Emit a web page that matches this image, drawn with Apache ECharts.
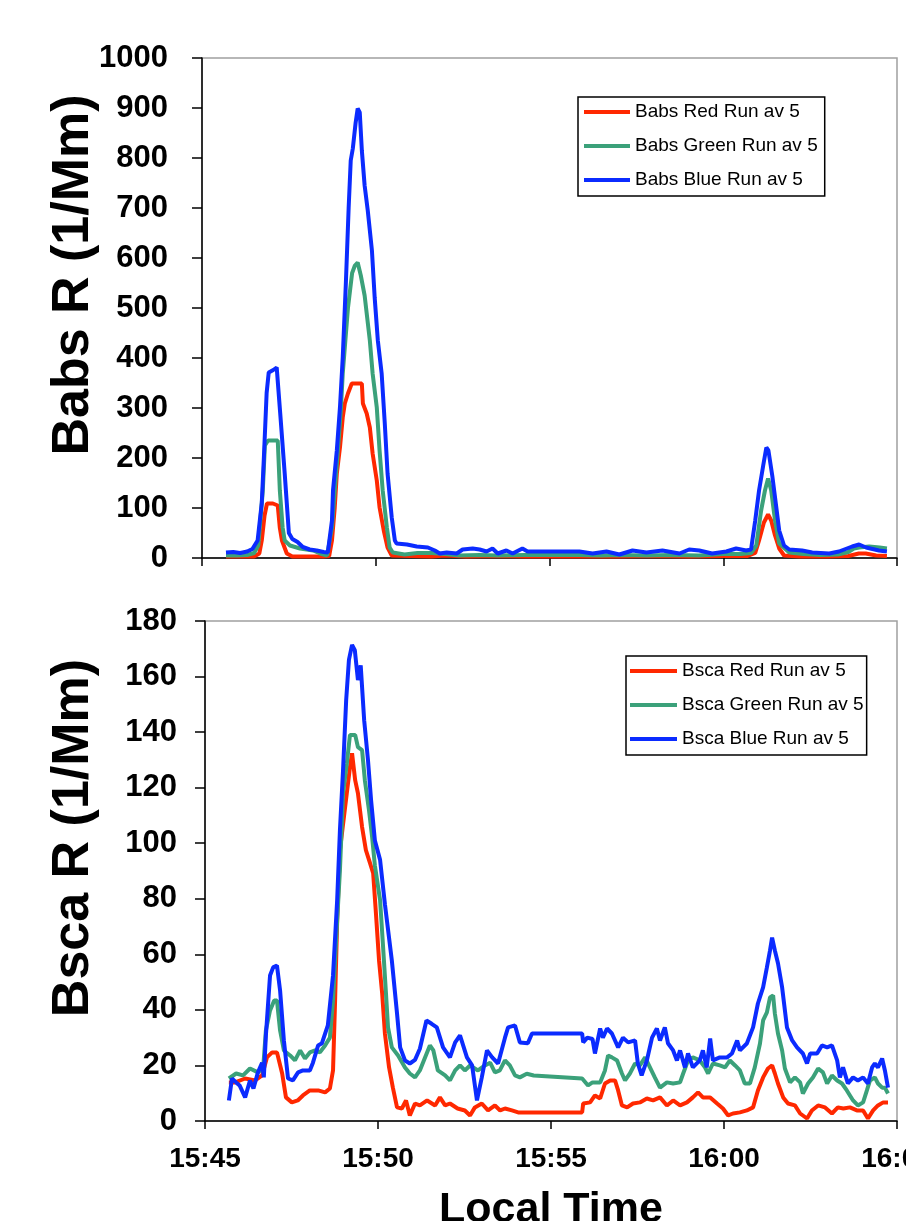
<!DOCTYPE html>
<html><head><meta charset="utf-8">
<script src="https://cdn.jsdelivr.net/npm/echarts@6/dist/echarts.min.js"></script>
<style>html,body{margin:0;padding:0;background:#fff}#c{width:906px;height:1221px}</style>
</head><body><div id="c"></div>
<script>
// x values: minutes after 15:45 local time
const tickLabels = ['15:45','15:50','15:55','16:00','16:05'];
const babsNames = ['Babs Red Run av 5','Babs Green Run av 5','Babs Blue Run av 5'];
const bscaNames = ['Bsca Red Run av 5','Bsca Green Run av 5','Bsca Blue Run av 5'];
const colors = ['#ff2800','#3ba17a','#0b2bff'];

const babsRed = [[0.69,3],[1.5,3],[1.65,9],[1.72,35],[1.8,85],[1.87,109],[2.04,109],[2.18,105],[2.24,60],[2.3,35],[2.44,9],[2.6,3],[3.5,3],[3.66,4],[3.74,35],[3.82,101],[3.88,169],[3.97,221],[4.05,281],[4.11,309],[4.2,329],[4.31,349],[4.6,349],[4.63,309],[4.74,289],[4.83,261],[4.91,209],[5.03,155],[5.11,101],[5.23,55],[5.34,21],[5.46,5],[6.0,4],[6.6,3],[7.0,5],[7.6,3],[8.5,4],[9.3,3],[10.86,3],[12.0,3],[13.0,4],[14.0,3],[15.0,4],[15.7,4],[15.92,10],[16.03,35],[16.17,71],[16.29,87],[16.38,75],[16.49,45],[16.61,19],[16.75,5],[17.2,3],[18.0,3],[18.6,4],[18.9,9],[19.1,9],[19.4,5],[19.71,4]];
const babsGreen = [[0.69,5],[1.0,5],[1.3,6],[1.5,10],[1.62,25],[1.75,135],[1.81,225],[1.9,235],[2.18,235],[2.24,135],[2.32,61],[2.38,35],[2.53,25],[2.82,19],[3.2,15],[3.4,9],[3.6,5],[3.74,61],[3.82,135],[3.91,215],[4.0,301],[4.05,369],[4.2,500],[4.32,570],[4.4,585],[4.48,591],[4.57,565],[4.68,525],[4.83,435],[4.91,369],[5.03,301],[5.11,215],[5.2,135],[5.32,61],[5.4,21],[5.49,11],[5.83,7],[6.2,10],[6.6,10],[7.0,8],[7.4,5],[8.0,6],[8.5,5],[9.3,6],[10.86,6],[11.5,5],[12.0,6],[12.8,5],[13.5,6],[14.3,5],[15.0,8],[15.5,8],[15.8,10],[15.95,25],[16.09,95],[16.2,135],[16.29,159],[16.38,135],[16.49,75],[16.61,29],[16.9,11],[17.3,8],[17.8,6],[18.3,7],[18.6,12],[18.76,19],[18.91,21],[19.2,23],[19.5,21],[19.71,19]];
const babsBlue = [[0.69,11],[0.9,12],[1.1,10],[1.3,13],[1.45,18],[1.6,35],[1.72,110],[1.78,200],[1.86,330],[1.92,371],[2.05,376],[2.15,381],[2.25,290],[2.38,169],[2.5,50],[2.6,38],[2.75,32],[2.9,22],[3.1,17],[3.3,15],[3.5,12],[3.62,11],[3.74,75],[3.77,135],[3.88,215],[3.97,301],[4.05,401],[4.14,550],[4.22,700],[4.28,795],[4.34,819],[4.42,870],[4.48,899],[4.54,891],[4.6,815],[4.68,745],[4.77,695],[4.89,615],[4.97,520],[5.06,435],[5.17,369],[5.26,269],[5.34,169],[5.46,81],[5.55,35],[5.6,29],[5.9,27],[6.18,23],[6.5,21],[6.7,15],[6.84,9],[7.04,11],[7.33,9],[7.5,17],[7.79,19],[7.99,17],[8.19,13],[8.36,19],[8.51,9],[8.76,15],[8.94,9],[9.22,19],[9.37,13],[10.86,13],[11.24,9],[11.64,13],[12.01,7],[12.39,15],[12.79,11],[13.25,15],[13.74,9],[14.02,17],[14.31,15],[14.68,9],[15.09,13],[15.37,19],[15.66,15],[15.8,17],[15.92,75],[16.03,135],[16.15,185],[16.24,221],[16.3,215],[16.41,165],[16.52,105],[16.61,55],[16.75,25],[16.9,17],[17.27,15],[17.56,11],[18.05,9],[18.33,13],[18.71,23],[18.91,27],[19.11,21],[19.48,15],[19.71,13]];

const bscaRed = [[0.69,13.9],[0.87,13.9],[1.16,15.3],[1.45,14.6],[1.65,16.4],[1.79,22.9],[1.94,24.7],[2.08,24.7],[2.23,17.1],[2.34,8.5],[2.51,6.7],[2.68,7.4],[2.83,9.2],[3.03,11],[3.27,11],[3.47,10.3],[3.61,11.7],[3.7,18.2],[3.76,43.4],[3.82,72.3],[3.9,97.5],[4.05,113],[4.19,127.4],[4.25,132.4],[4.34,122.7],[4.42,118],[4.54,105.8],[4.65,97.5],[4.77,92.8],[4.86,89.2],[4.94,74.8],[5.03,57.8],[5.12,46],[5.2,31.5],[5.32,19.3],[5.43,12],[5.55,4.9],[5.69,4.5],[5.81,7.4],[5.92,2],[6.07,6.3],[6.21,5.6],[6.42,7.4],[6.65,5.6],[6.79,8.5],[6.94,5.6],[7.08,6.3],[7.3,4.5],[7.51,3.8],[7.66,2],[7.8,4.9],[8.0,6.3],[8.18,3.8],[8.38,5.6],[8.53,3.8],[8.67,4.5],[8.87,3.8],[9.05,3.1],[10.9,3.1],[10.93,6.3],[11.13,6.7],[11.27,9.2],[11.42,8.1],[11.56,13.5],[11.71,14.6],[11.85,14.6],[11.94,11],[12.05,5.6],[12.2,4.9],[12.37,6.3],[12.57,6.7],[12.77,8.1],[12.95,7.4],[13.15,8.5],[13.35,5.6],[13.53,7.4],[13.73,5.6],[13.93,6.7],[14.1,8.5],[14.25,10.3],[14.39,8.5],[14.6,8.5],[14.8,6.3],[14.97,4.5],[15.12,2],[15.26,2.7],[15.46,3.1],[15.66,3.8],[15.84,4.9],[15.98,11],[16.13,15.7],[16.27,18.9],[16.39,20],[16.47,17.1],[16.56,13.5],[16.71,8.5],[16.85,6.3],[17.05,5.6],[17.2,2.7],[17.4,0.9],[17.54,3.8],[17.72,5.6],[17.92,4.9],[18.12,2.7],[18.29,4.9],[18.45,4.5],[18.64,4.9],[18.84,3.8],[19.02,3.8],[19.16,0.9],[19.31,3.8],[19.45,5.6],[19.6,6.7],[19.74,6.7]];
const bscaGreen = [[0.69,15.3],[0.9,17.1],[1.1,16.4],[1.3,18.9],[1.53,17.5],[1.68,18.9],[1.76,32.6],[1.88,39.8],[2.0,43.4],[2.08,43.4],[2.17,32.6],[2.28,25.4],[2.46,23.6],[2.6,21.8],[2.75,25.4],[2.89,22.5],[3.03,24.7],[3.18,25.4],[3.32,24.7],[3.47,27.2],[3.61,30],[3.7,43.4],[3.82,72.3],[3.9,90.3],[3.99,118],[4.1,128.8],[4.19,139],[4.34,139],[4.42,134.6],[4.54,133.5],[4.62,122.7],[4.74,111.9],[4.83,102.2],[4.91,92],[5.06,79.5],[5.14,64],[5.23,46],[5.29,33.7],[5.4,26.5],[5.58,23.6],[5.78,19.3],[5.92,17.1],[6.07,15.7],[6.21,18.2],[6.36,22.9],[6.5,27.2],[6.6,25.4],[6.73,18.2],[6.94,16.4],[7.08,14.6],[7.23,18.2],[7.37,20],[7.51,18.2],[7.66,20],[7.89,18.2],[8.09,20],[8.24,21],[8.38,17.5],[8.52,18.2],[8.67,21.8],[8.81,20],[8.96,16.4],[9.1,15.7],[9.3,17],[9.5,16.4],[10.9,15.3],[11.07,12.8],[11.2,13.9],[11.42,13.9],[11.56,18.2],[11.65,23.6],[11.76,22.9],[11.91,21.8],[12.05,17.1],[12.14,14.6],[12.28,17.1],[12.43,20.7],[12.57,20],[12.72,22.9],[12.86,19.3],[13.0,15.7],[13.15,12],[13.35,13.9],[13.53,13.5],[13.73,13.9],[13.82,17.1],[13.96,21.8],[14.1,22.9],[14.3,21.8],[14.45,19.3],[14.54,17.1],[14.68,20.7],[14.88,20],[15.03,19.3],[15.17,21.8],[15.32,20],[15.46,18.2],[15.6,13.5],[15.75,13.5],[15.89,19.3],[16.04,27.9],[16.13,36.2],[16.24,39.1],[16.33,44.5],[16.42,45.2],[16.47,38.7],[16.56,31.5],[16.68,25.4],[16.76,18.9],[16.91,13.9],[17.05,15.7],[17.2,13.9],[17.28,9.9],[17.43,13.5],[17.57,15.7],[17.72,18.9],[17.86,17.5],[17.98,13.5],[18.12,16.4],[18.27,14.6],[18.41,13.5],[18.55,11],[18.73,7.4],[18.87,5.6],[19.02,6.7],[19.13,11],[19.22,14.6],[19.36,15.7],[19.45,13.5],[19.57,12],[19.65,12],[19.74,9.9]];
const bscaBlue = [[0.69,7.4],[0.78,15.3],[0.9,13.9],[1.0,12.8],[1.16,8.5],[1.3,14.6],[1.4,11.7],[1.53,17.5],[1.65,21],[1.7,15.7],[1.76,30.8],[1.88,52.4],[1.97,55.3],[2.08,56],[2.17,47],[2.28,29],[2.4,15.3],[2.54,14.6],[2.69,17.5],[2.83,18.2],[3.03,18.2],[3.12,21],[3.27,27.2],[3.38,28],[3.55,34.4],[3.7,52.4],[3.82,79.5],[3.9,104.7],[3.99,126.3],[4.08,151.5],[4.16,166],[4.25,171.4],[4.33,169.5],[4.42,158.7],[4.5,164],[4.6,144.3],[4.71,130],[4.8,115.5],[4.91,101],[5.06,94],[5.2,78],[5.4,57.8],[5.55,38.7],[5.64,26.5],[5.78,21.8],[5.92,20.7],[6.07,22],[6.21,26],[6.4,36.2],[6.55,35],[6.7,33.7],[6.88,26.5],[7.08,22.9],[7.23,28.3],[7.37,30.8],[7.57,22.9],[7.72,20],[7.86,7.4],[8.0,15.7],[8.15,25.4],[8.3,22.9],[8.47,20.7],[8.67,30],[8.76,33.7],[8.96,34.4],[9.1,28.3],[9.33,28],[9.45,31.5],[10.9,31.5],[10.93,28.3],[11.05,30],[11.2,29.5],[11.27,24.3],[11.42,33.3],[11.5,30],[11.62,33.3],[11.76,31.5],[11.94,26.5],[12.08,30],[12.23,28.3],[12.43,29],[12.51,20.7],[12.62,16.4],[12.77,21.8],[12.92,30],[13.06,33.3],[13.15,29],[13.29,33.7],[13.38,28],[13.53,25.4],[13.64,21.8],[13.73,25.4],[13.87,19.3],[13.96,24.3],[14.1,19.3],[14.3,21.8],[14.39,25.4],[14.5,19.3],[14.6,29.7],[14.68,21.8],[14.88,22.9],[15.09,22.9],[15.23,24.3],[15.38,29],[15.46,25.4],[15.66,27.9],[15.84,33.7],[15.98,42.3],[16.13,48.1],[16.24,55.3],[16.33,61.4],[16.39,66],[16.47,61.4],[16.56,56.8],[16.68,48.1],[16.82,33.7],[16.97,29],[17.11,26.5],[17.28,24.3],[17.4,20.7],[17.49,24.3],[17.69,24.3],[17.83,27.2],[17.98,26.5],[18.12,27.2],[18.27,21.8],[18.35,15.7],[18.44,19.3],[18.58,13.5],[18.73,15.7],[18.87,14.6],[19.02,15.7],[19.16,13.5],[19.28,19.3],[19.36,20.7],[19.45,19.3],[19.57,22.5],[19.65,18.2],[19.74,12]];

const FONT = '"Liberation Sans", Arial, Helvetica, sans-serif';
const chart = echarts.init(document.getElementById('c'), null, {renderer: 'canvas'});

function xAxisCfg(grid, showLabels) {
  const a = {
    gridIndex: grid, type: 'value', min: 0, max: 20, interval: 5,
    axisLine: {show: true, onZero: false, lineStyle: {color: '#000', width: 1.5}},
    axisTick: {show: true, inside: false, length: 8, lineStyle: {color: '#000', width: 1.5}},
    splitLine: {show: false},
    axisLabel: {show: showLabels, margin: 24, color: '#000', fontFamily: FONT, fontWeight: 'bold', fontSize: 28,
      formatter: v => tickLabels[Math.round(v / 5)] || ''}
  };
  if (showLabels) {
    a.name = 'Local Time'; a.nameLocation = 'middle'; a.nameGap = 68; a.nameMoveOverlap = false;
    a.nameTextStyle = {color: '#000', fontFamily: FONT, fontWeight: 'bold', fontSize: 43};
  }
  return a;
}
function yAxisCfg(grid, max, interval, name, margin, gap) {
  return {
    gridIndex: grid, type: 'value', min: 0, max: max, interval: interval,
    axisLine: {show: true, lineStyle: {color: '#000', width: 1.5}},
    axisTick: {show: true, inside: false, length: 10, lineStyle: {color: '#000', width: 1.5}},
    splitLine: {show: false},
    axisLabel: {margin: margin, color: '#000', fontFamily: FONT, fontWeight: 'bold', fontSize: 31,
      formatter: v => String(v)},
    name: name, nameLocation: 'middle', nameRotate: 90, nameGap: gap, nameMoveOverlap: false,
    nameTextStyle: {color: '#000', fontFamily: FONT, fontWeight: 'bold', fontSize: 52, padding: [0, 0, 0, 66]}
  };
}
function lineSeries(name, data, ci, grid) {
  return {
    name: name, type: 'line', data: data, xAxisIndex: grid, yAxisIndex: grid,
    showSymbol: false, symbol: 'none', animation: false,
    lineStyle: {color: colors[ci], width: 4}, itemStyle: {color: colors[ci]}
  };
}
function legendCfg(names, left, top, w, pad) {
  return {
    data: names, orient: 'vertical', left: left, top: top, itemWidth: w, itemHeight: 4,
    itemGap: 14, icon: 'rect', padding: pad, borderColor: '#000', borderWidth: 1.5,
    backgroundColor: '#fff', selectedMode: false,
    textStyle: {color: '#000', fontFamily: FONT, fontSize: 19, lineHeight: 20}
  };
}

chart.setOption({
  animation: false,
  backgroundColor: '#fff',
  grid: [
    {left: 202, top: 58, width: 695, height: 500, show: true, borderColor: '#a0a0a0', borderWidth: 1.5,
     backgroundColor: '#fff', outerBoundsMode: 'none', containLabel: false},
    {left: 205, top: 621, width: 692, height: 500, show: true, borderColor: '#a0a0a0', borderWidth: 1.5,
     backgroundColor: '#fff', outerBoundsMode: 'none', containLabel: false}
  ],
  xAxis: [xAxisCfg(0, false), xAxisCfg(1, true)],
  yAxis: [yAxisCfg(0, 1000, 100, 'Babs R (1/Mm)', 34, 102), yAxisCfg(1, 180, 20, 'Bsca R (1/Mm)', 28, 105)],
  legend: [legendCfg(babsNames, 578, 97, 46, [5, 7, 6, 6]), legendCfg(bscaNames, 626, 656, 47, [5, 3, 6, 4])],
  series: [
    lineSeries(babsNames[0], babsRed, 0, 0),
    lineSeries(babsNames[1], babsGreen, 1, 0),
    lineSeries(babsNames[2], babsBlue, 2, 0),
    lineSeries(bscaNames[0], bscaRed, 0, 1),
    lineSeries(bscaNames[1], bscaGreen, 1, 1),
    lineSeries(bscaNames[2], bscaBlue, 2, 1)
  ]
});
</script></body></html>
